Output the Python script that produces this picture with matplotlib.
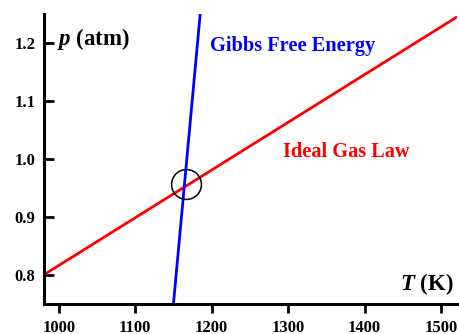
import matplotlib
matplotlib.use("Agg")
import matplotlib.pyplot as plt

# Data
ideal_T = [980, 1521]
ideal_p = [0.800, 1.245]
gibbs_T = [1150, 1185]
gibbs_p = [0.75, 1.25]
intersect_T = [1167]
intersect_p = [0.957]
x_ticks = [1000, 1100, 1200, 1300, 1400, 1500]
y_ticks = [0.8, 0.9, 1.0, 1.1, 1.2]

plt.rcParams['font.family'] = ['Liberation Serif']
plt.rcParams['font.weight'] = 'bold'
plt.rcParams['mathtext.fontset'] = 'custom'
plt.rcParams['mathtext.it'] = 'Liberation Serif:bold:italic'
plt.rcParams['mathtext.rm'] = 'Liberation Serif:bold'

fig = plt.figure(figsize=(4.59, 3.34), dpi=100)
ax = fig.add_axes([43.5/459, 30/334, 413.5/459, 290/334])

ax.plot(ideal_T, ideal_p, color='#ff0000', lw=2.0, solid_capstyle='butt', zorder=2)
ax.plot(gibbs_T, gibbs_p, color='#0000ff', lw=2.0, solid_capstyle='butt', zorder=2)
ax.plot(intersect_T, intersect_p, 'o', ms=21.5, mfc='none', mec='black', mew=1.1, zorder=3)

ax.set_xlim(980, 1521)
ax.set_ylim(0.75, 1.25)
ax.set_xticks(x_ticks)
ax.set_yticks(y_ticks)
ax.set_xticklabels([str(v) for v in x_ticks])
ax.set_yticklabels([f"{v:.1f}" for v in y_ticks])

for s in ['top', 'right']:
    ax.spines[s].set_visible(False)
for s in ['left', 'bottom']:
    ax.spines[s].set_linewidth(2.2)

ax.tick_params(axis='y', direction='in', length=7, width=2, labelsize=12, pad=6)
ax.tick_params(axis='x', direction='out', length=6.5, width=2, labelsize=12, pad=5)
for lab in ax.get_xticklabels() + ax.get_yticklabels():
    lab.set_fontweight('bold')

ax.text(0.033, 0.915, r"$p$ (atm)", transform=ax.transAxes, fontsize=16.5,
        fontweight='bold', ha='left', va='center')
ax.text(0.992, 0.07, r"$T$ (K)", transform=ax.transAxes, fontsize=16.5,
        fontweight='bold', ha='right', va='center')
ax.text(0.403, 0.89, "Gibbs Free Energy", transform=ax.transAxes, fontsize=14.7,
        fontweight='bold', color='#0000ff', ha='left', va='center')
ax.text(0.579, 0.525, "Ideal Gas Law", transform=ax.transAxes, fontsize=14.7,
        fontweight='bold', color='#ff0000', ha='left', va='center')

fig.savefig("out.png", dpi=100)
